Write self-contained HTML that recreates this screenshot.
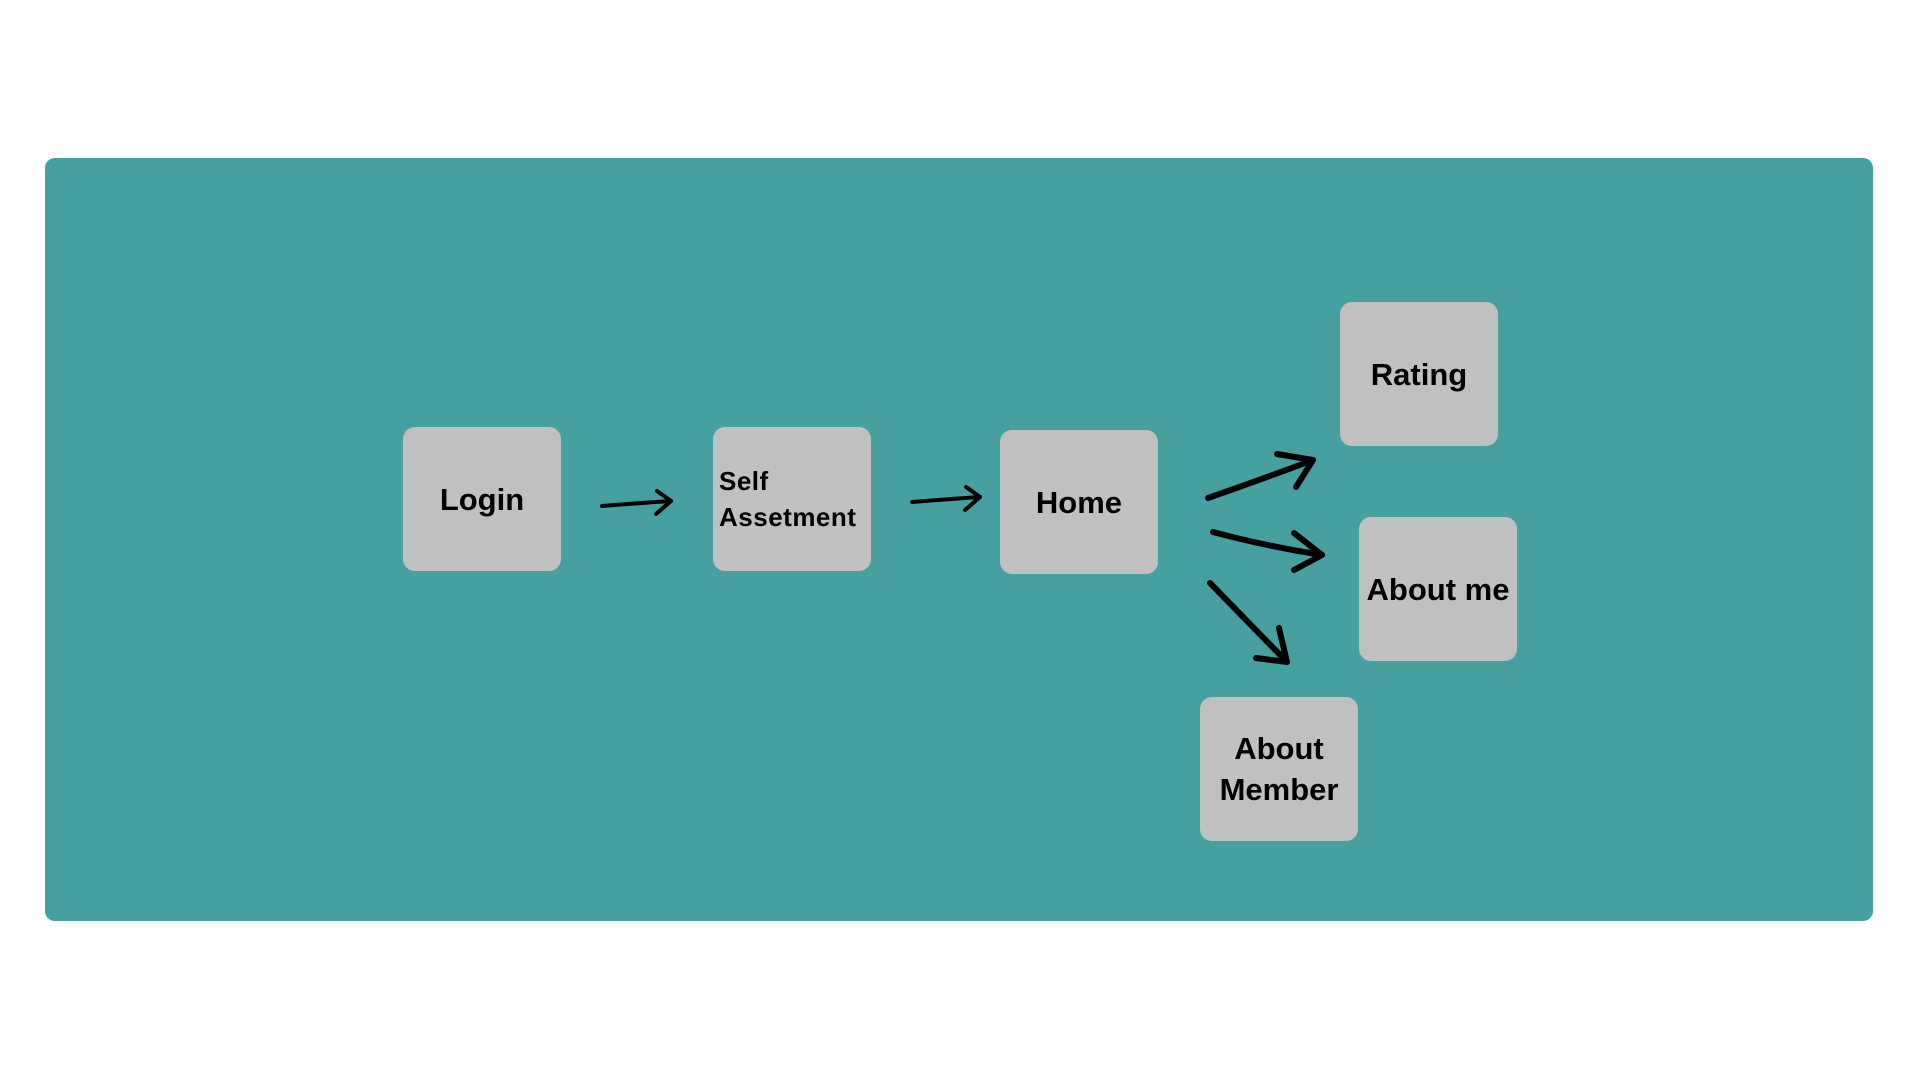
<!DOCTYPE html>
<html><head><meta charset="utf-8"><style>
html,body{margin:0;padding:0;width:1920px;height:1080px;background:#fff;overflow:hidden;font-family:"Liberation Sans",sans-serif}
.panel{position:absolute;left:45px;top:158px;width:1828px;height:763px;background:#45a09f;border-radius:10px}
.box{position:absolute;width:158px;height:144px;background:#c0c0c0;border-radius:12px;display:flex;align-items:center;justify-content:center;font-weight:bold;font-size:31px;color:#000;text-align:center;line-height:41px}
</style></head><body>
<div class="panel"></div>
<div class="box" style="left:403px;top:427px">Login</div>
<div class="box" style="left:713px;top:427px"></div>
<div style="position:absolute;left:719px;top:463px;font-weight:bold;font-size:26px;line-height:36px;color:#000;letter-spacing:0.5px">Self<br>Assetment</div>
<div class="box" style="left:1000px;top:430px">Home</div>
<div class="box" style="left:1340px;top:302px">Rating</div>
<div class="box" style="left:1359px;top:517px">About me</div>
<div class="box" style="left:1200px;top:697px">About<br>Member</div>
<svg width="1920" height="1080" style="position:absolute;left:0;top:0" fill="none" stroke="#000" stroke-linecap="round" stroke-linejoin="round">
<g stroke-width="4">
<path d="M602 506 Q640 503 671 501"/><path d="M657 491 L671 501 L656 514"/>
<path d="M912 502 Q950 499 980 497"/><path d="M966 487 L980 497 L965 510"/>
</g>
<g stroke-width="6">
<path d="M1208 498 Q1260 480 1313 460"/><path d="M1277 454 L1313 460 L1296 487"/>
<path d="M1213 532 Q1265 546 1322 555"/><path d="M1294 533 L1322 555 L1294 570"/>
<path d="M1210 583 L1287 662"/><path d="M1279 628 L1287 662 L1256 658"/>
</g>
</svg>
</body></html>
